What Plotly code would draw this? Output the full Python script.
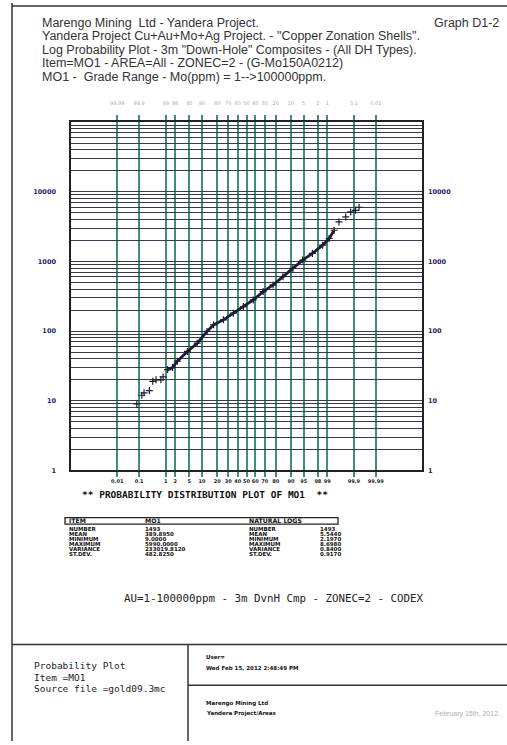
import plotly.graph_objects as go
from statistics import NormalDist

W, H = 507, 745
nd = NormalDist()

# ---------------- data ----------------
cum_prob_pct = [0.08, 0.13, 0.16, 0.26, 0.35, 0.46, 0.69, 0.82, 1.16, 1.66, 2.33,
                4.45, 7.8, 12.8, 17.2, 25.4, 35.3, 46.4, 57.7, 68.4, 77.8, 85.3,
                90.9, 94.7, 97.1, 98.57, 99.13, 99.415, 99.61, 99.785, 99.864,
                99.915, 99.94]
mo_ppm = [9, 12, 13, 14, 19, 20, 20, 22, 28, 30, 37,
          51, 67, 99, 123, 145, 181, 225, 280, 369, 459, 604,
          794, 1045, 1300, 1710, 2130, 2800, 3690, 4350, 5130,
          5400, 5990]

prob_ticks = [0.01, 0.1, 1, 2, 5, 10, 20, 30, 40, 50, 60, 70, 80, 90, 95, 98, 99, 99.9, 99.99]
prob_tick_labels = ["0.01", "0.1", "1", "2", "5", "10", "20", "30", "40", "50", "60",
                    "70", "80", "90", "95", "98", "99", "99.9", "99.99"]
top_tick_labels = list(reversed(prob_tick_labels))

y_decades = [1, 10, 100, 1000, 10000]
y_decade_labels = ["1", "10", "100", "1000", "10000"]
y_grid = [m * 10 ** d for d in range(5) for m in range(1, 10)] + [100000]

stat_items = ["NUMBER", "MEAN", "MINIMUM", "MAXIMUM", "VARIANCE", "ST.DEV."]
stat_mo1 = ["1493", "389.8950", "9.0000", "5990.0000", "233019.8120", "482.8250"]
stat_ln = ["1493", "5.5440", "2.1970", "8.6980", "0.8400", "0.9170"]

title_lines = [
    "Marengo Mining  Ltd - Yandera Project.",
    "Yandera Project Cu+Au+Mo+Ag Project. - \"Copper Zonation Shells\".",
    "Log Probability Plot - 3m \"Down-Hole\" Composites - (All DH Types).",
    "Item=MO1 - AREA=All - ZONEC=2 - (G-Mo150A0212)",
    "MO1 -  Grade Range - Mo(ppm) = 1-->100000ppm.",
]

# probability scale transform (normal quantile)
def z_of(p_pct):
    return nd.inv_cdf(p_pct / 100.0)

zx = [z_of(p) for p in cum_prob_pct]
ztick = [z_of(p) for p in prob_ticks]

def px(x):
    return x / W

def py(y):
    return 1 - y / H

fig = go.Figure()

dense = slice(8, 28)
fig.add_trace(go.Scatter(x=zx[dense], y=mo_ppm[dense], mode="lines",
                         line=dict(color="#1c1c34", width=2.8),
                         hoverinfo="skip", showlegend=False))
fig.add_trace(go.Scatter(x=zx, y=mo_ppm, mode="markers",
                         marker=dict(symbol="cross-thin", size=5,
                                     line=dict(color="#1c1c34", width=1.2)),
                         showlegend=False))
# invisible trace for the secondary (top / right) axes
fig.add_trace(go.Scatter(x=zx, y=mo_ppm, mode="markers", xaxis="x2", yaxis="y2",
                         marker=dict(opacity=0), hoverinfo="skip", showlegend=False))

teal = "#3d8f7a"
xdom = [px(71), px(422)]
ydom = [py(473), py(122.7)]
xr = [-5.05, 5.05]

fig.update_layout(
    width=W, height=H,
    margin=dict(l=0, r=0, t=0, b=0),
    paper_bgcolor="white", plot_bgcolor="white",
    showlegend=False,
    xaxis=dict(domain=xdom, range=xr, tickvals=ztick,
               ticktext=["<b>%s</b>" % t for t in prob_tick_labels], tickangle=0,
               showgrid=True, gridcolor=teal, gridwidth=1.5,
               ticks="outside", ticklen=5, tickwidth=1.5, tickcolor=teal,
               tickfont=dict(size=5, color="#222222", family="DejaVu Sans"),
               showline=True, linecolor="#222222", linewidth=1.5,
               zeroline=False, fixedrange=True),
    xaxis2=dict(domain=xdom, range=xr, overlaying="x", side="top", anchor="y",
                tickvals=ztick, ticktext=top_tick_labels, tickangle=0,
                showgrid=False, ticks="outside", ticklen=5, tickwidth=1.5,
                ticklabelstandoff=8,
                tickcolor=teal, tickfont=dict(size=5, color="#aaaaaa", family="DejaVu Sans"),
                showline=True, linecolor="#222222", linewidth=1.5, zeroline=False),
    yaxis=dict(domain=ydom, type="log", range=[0, 5], tickvals=y_grid,
               ticktext=[("<b>%s</b>" % y_decade_labels[y_decades.index(v)])
                         if v in y_decades else "" for v in y_grid],
               showgrid=True, gridcolor="#3a3a4c", gridwidth=1.3,
               ticks="", ticklabelstandoff=12,
               tickfont=dict(size=6.5, color="#1a1a70", family="DejaVu Sans"),
               showline=True, linecolor="#222222", linewidth=1.5,
               zeroline=False, fixedrange=True),
    yaxis2=dict(domain=ydom, type="log", range=[0, 5], overlaying="y", side="right",
                anchor="x", tickvals=y_decades,
                ticktext=["<b>%s</b>" % t for t in y_decade_labels],
                showgrid=False, ticks="", ticklabelstandoff=3,
                tickfont=dict(size=6.5, color="#1a1a70", family="DejaVu Sans"),
                showline=True, linecolor="#222222", linewidth=1.5, zeroline=False),
)

ann = []
def text(x, y, s, size, color="#222222", family="Liberation Sans", anchor="left", bold=False):
    if bold:
        s = "<b>%s</b>" % s
    ann.append(dict(x=px(x), y=py(y), xref="paper", yref="paper", text=s,
                    showarrow=False, xanchor=anchor, yanchor="middle",
                    font=dict(size=size, color=color, family=family)))

# header
ty = [23, 36.6, 50.2, 63.8, 77.4]
for s, y in zip(title_lines, ty):
    text(40, y, s, 12.5, color="#333333")
text(501, 23, "Graph D1-2", 12.5, color="#333333", anchor="right")

mono = "DejaVu Sans Mono"
text(80, 497, "** PROBABILITY DISTRIBUTION PLOT OF MO1  **", 9.5, color="#111111", family=mono, bold=True)

# stats table
tf = "DejaVu Sans"
text(67, 523.5, "ITEM", 6.2, color="#111111", family=tf, bold=True)
text(143, 523.5, "MO1", 6.2, color="#111111", family=tf, bold=True)
text(247, 523.5, "NATURAL LOGS", 6.2, color="#111111", family=tf, bold=True)
row_y = [531.5, 536.6, 541.7, 546.8, 551.9, 557]
for lab, v1, v2, y in zip(stat_items, stat_mo1, stat_ln, row_y):
    text(67, y, lab, 5.5, color="#111111", family=tf, bold=True)
    text(143, y, v1, 5.5, color="#111111", family=tf, bold=True)
    text(247, y, lab, 5.5, color="#111111", family=tf, bold=True)
    text(318, y, v2, 5.5, color="#111111", family=tf, bold=True)

text(122, 602, "AU=1-100000ppm - 3m DvnH Cmp - ZONEC=2 - CODEX", 10.8, color="#222222", family=mono)

# footer
text(32, 669, "Probability Plot", 9.5, color="#222222", family=mono)
text(32, 681, "Item =MO1", 9.5, color="#222222", family=mono)
text(32, 692, "Source file =gold09.3mc", 9.5, color="#222222", family=mono)
text(204, 660.5, "User=", 5.5, color="#111111", family="DejaVu Sans", bold=True)
text(204, 672, "Wed Feb 15, 2012 2:48:49 PM", 5.5, color="#111111", family="DejaVu Sans", bold=True)
text(204, 707, "Marengo Mining Ltd", 5.5, color="#111111", family="DejaVu Sans", bold=True)
text(204, 717.5, "Yandera Project/Areas", 5.5, color="#111111", family="DejaVu Sans", bold=True)
text(502, 717.5, "February 15th, 2012.", 7, color="#b0b0b0", anchor="right")

fig.update_layout(annotations=ann)

shapes = []
def line(x0, y0, x1, y1, w=1.5, c="#333333"):
    shapes.append(dict(type="line", xref="paper", yref="paper",
                       x0=px(x0), y0=py(y0), x1=px(x1), y1=py(y1),
                       line=dict(color=c, width=w)))

line(12, 6, 507, 6)
line(12, 3, 12, 745)
line(12, 648, 507, 648)
line(188, 648, 188, 745)
line(188, 689, 507, 689)
# stats header box
shapes.append(dict(type="rect", xref="paper", yref="paper",
                   x0=px(65), y0=py(527), x1=px(338), y1=py(520.5),
                   line=dict(color="#222222", width=1.3)))
fig.update_layout(shapes=shapes)

fig.write_html("out.html", config={"displayModeBar": False},
               post_script="document.body.style.margin='0';document.body.style.overflow='hidden';")
